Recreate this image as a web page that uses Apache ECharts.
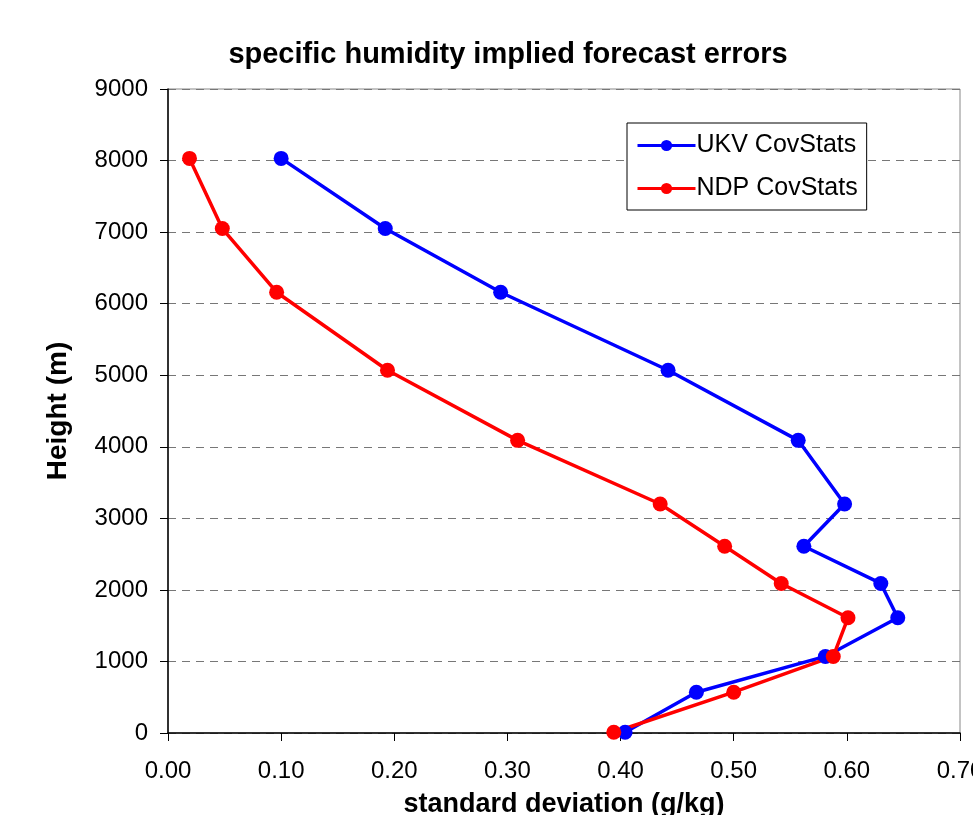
<!DOCTYPE html>
<html>
<head>
<meta charset="utf-8">
<script src="https://cdn.jsdelivr.net/npm/echarts@6/dist/echarts.min.js"></script>
<style>
  html, body { margin: 0; padding: 0; background: #fff; }
  #chart { width: 973px; height: 815px; }
</style>
</head>
<body>
<div id="chart"></div>
<script>
// heights (m) shared by both profiles
const heights = [10, 570, 1070, 1610, 2090, 2610, 3200, 4090, 5070, 6160, 7050, 8030];
// standard deviation (g/kg)
const ukvStd = [0.404, 0.467, 0.581, 0.645, 0.630, 0.562, 0.598, 0.557, 0.442, 0.294, 0.192, 0.100];
const ndpStd = [0.394, 0.500, 0.588, 0.601, 0.542, 0.492, 0.435, 0.309, 0.194, 0.096, 0.048, 0.019];

const toPairs = (xs) => xs.map((x, i) => [x, heights[i]]);

const FONT = 'Liberation Sans, Arial, sans-serif';

var myChart = echarts.init(document.getElementById('chart'));
myChart.setOption({
  animation: false,
  textStyle: { fontFamily: FONT },
  title: {
    text: 'specific humidity implied forecast errors',
    left: 503,
    textAlign: 'center',
    top: 35,
    textStyle: { fontSize: 29, fontWeight: 'bold', color: '#000', fontFamily: FONT }
  },
  grid: {
    left: 168,
    right: 13,
    top: 89,
    bottom: 82,
    outerBoundsMode: 'none',
    containLabel: false,
    show: true,
    borderColor: '#888',
    borderWidth: 1
  },
  legend: {
    orient: 'vertical',
    left: 627,
    top: 123,
    padding: [10, 9, 9, 9],
    itemGap: 18,
    itemWidth: 58,
    itemHeight: 14,
    borderColor: '#000',
    borderWidth: 1,
    backgroundColor: '#fff',
    lineStyle: { width: 3 },
    textStyle: { fontSize: 25, color: '#000', fontFamily: FONT, padding: [0, 0, 0, -4] },
    data: ['UKV CovStats', 'NDP CovStats']
  },
  xAxis: {
    type: 'value',
    min: 0,
    max: 0.7,
    interval: 0.1,
    name: 'standard deviation (g/kg)',
    nameLocation: 'middle',
    nameGap: 58,
    nameTextStyle: { fontSize: 27, fontWeight: 'bold', color: '#000' },
    axisLine: { show: true, lineStyle: { color: '#000', width: 1.5 } },
    axisTick: { show: true, inside: false, length: 8, lineStyle: { color: '#000' } },
    axisLabel: {
      fontSize: 24,
      color: '#000',
      margin: 26,
      formatter: (v) => v.toFixed(2)
    },
    splitLine: { show: false }
  },
  yAxis: {
    type: 'value',
    min: 0,
    max: 9000,
    interval: 1000,
    name: 'Height (m)',
    nameLocation: 'middle',
    nameGap: 96,
    nameTextStyle: { fontSize: 28, fontWeight: 'bold', color: '#000' },
    axisLine: { show: true, lineStyle: { color: '#000', width: 1.5 } },
    axisTick: { show: true, inside: false, length: 8, lineStyle: { color: '#000' } },
    axisLabel: { fontSize: 24, color: '#000', margin: 20, formatter: (v) => String(v) },
    splitLine: { show: true, lineStyle: { color: '#777', type: [8, 6], width: 1 } }
  },
  series: [
    {
      name: 'UKV CovStats',
      type: 'line',
      data: toPairs(ukvStd),
      symbol: 'circle',
      symbolSize: 15,
      color: '#0000ff',
      lineStyle: { width: 3.5, color: '#0000ff' },
      itemStyle: { color: '#0000ff' }
    },
    {
      name: 'NDP CovStats',
      type: 'line',
      data: toPairs(ndpStd),
      symbol: 'circle',
      symbolSize: 15,
      color: '#ff0000',
      lineStyle: { width: 3.5, color: '#ff0000' },
      itemStyle: { color: '#ff0000' }
    }
  ]
});
</script>
</body>
</html>
